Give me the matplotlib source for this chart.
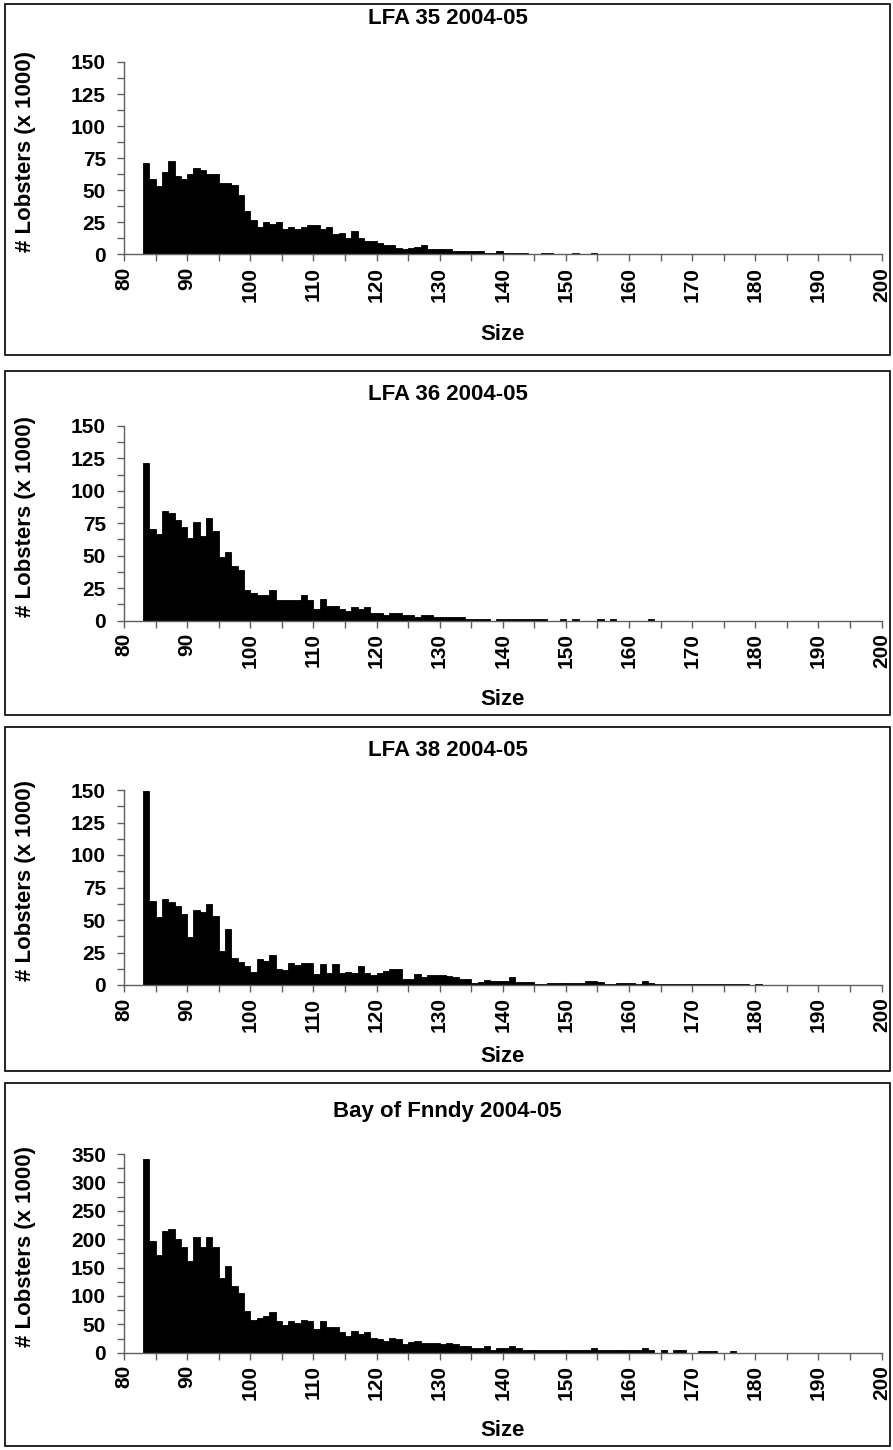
import matplotlib
matplotlib.use('Agg')
import matplotlib.pyplot as plt
from matplotlib.patches import Rectangle
from matplotlib.ticker import MultipleLocator

plt.rcParams['font.family'] = ['Liberation Sans', 'DejaVu Sans']
plt.rcParams['font.weight'] = 'bold'

# ---------------- data (thousands of lobsters by carapace size, mm) ----------------
start_size = 83

titles = ["LFA 35 2004-05", "LFA 36 2004-05", "LFA 38 2004-05", "Bay of Fnndy 2004-05"]
y_label = "# Lobsters (x 1000)"
x_label = "Size"

lfa35 = [71, 59, 53, 64, 73, 61, 59, 63, 67, 66, 63, 63, 56, 56, 54, 46, 34, 27, 21, 25,
         24, 25, 20, 21, 20, 21, 23, 23, 20, 21, 16, 17, 13, 18, 13, 10, 10, 9, 7, 7,
         5, 4.5, 4.7, 5.5, 7, 4.2, 4.2, 4.2, 4.2, 2.9, 2.9, 2.9, 2.9, 2.9, 1.3, 1.3,
         2.9, 1.3, 1.3, 1.3, 1.3, 0, 0, 1.3, 1.3, 0, 0, 0, 1.3, 0, 0, 1.3]

lfa36 = [121, 70.5, 66.4, 84.4, 83, 77.4, 71.8, 63.8, 75.9, 65.1, 78.7, 69.2, 48.7, 52.6,
         41.8, 38.7, 23.8, 21.3, 19.7, 19.7, 23.8, 15.6, 15.6, 15.6, 15.6, 19.7, 15.6, 8.7,
         17, 11.5, 11.5, 8.7, 7.4, 10.3, 8.7, 10.3, 5.9, 5.9, 4.6, 5.9, 5.9, 4.6, 4.6, 3.1,
         4.6, 4.6, 3.1, 3.1, 3.1, 3.1, 3.1, 1.5, 1.5, 1.5, 1.5, 0, 1.5, 1.5, 1.5, 1.5, 1.5,
         1.5, 1.5, 1.5, 0, 0, 1.5, 0, 1.5, 0, 0, 0, 1.5, 0, 1.5, 0, 0, 0, 0, 0, 1.5]

lfa38 = [149, 65, 52, 66, 64, 61, 55, 37, 58, 56, 62, 53, 26, 43, 21, 18, 15, 10, 20, 18.5,
         23, 12.5, 11.5, 17, 15.5, 17, 17, 8.5, 16, 9.5, 16, 9, 10, 9.5, 14.5, 9, 7.5, 9.5,
         11, 12, 12.3, 4.5, 4.5, 8.5, 6, 7.5, 7.5, 7.5, 7, 6, 4.5, 4.5, 1.8, 2.5, 4, 3, 3,
         3, 6, 2, 2, 2, 0.5, 0.5, 1.5, 1.5, 1.8, 1.8, 1.8, 1.8, 3, 3, 2, 0.8, 0.8, 1.5, 1.5,
         1.5, 1, 3, 1.8, 0.5, 0.5, 0.5, 0.5, 0.5, 0.5, 0.5, 0.5, 0.5, 0.5, 0.5, 0.5, 0.5,
         0.5, 0.5, 0, 0.5]

bof = [341, 196, 172, 215, 218, 200, 187, 162, 203, 187, 203, 187, 131, 152, 118, 105, 74,
       58, 61, 64, 71, 55, 49, 55, 52, 58, 55, 42, 55, 45, 45, 36, 30, 39, 33, 36, 26, 24,
       21, 26, 24, 15, 19, 20, 16.5, 16.5, 16.5, 14.7, 17.6, 14.7, 11, 11, 7.6, 7.6, 11,
       4.7, 7.6, 7.6, 11, 7.6, 4.7, 4.7, 4.7, 4.7, 4.7, 4.7, 4.7, 4.7, 4.7, 4.7, 4.7, 7.6,
       4.7, 4.7, 4.7, 4.7, 4.7, 4.7, 4.7, 7.6, 4.7, 0, 4.7, 0, 4.7, 4.7, 0, 0, 3, 3, 3, 0,
       0, 3]

series = [lfa35, lfa36, lfa38, bof]
y_max = [150, 150, 150, 350]
y_major = [25, 25, 25, 50]
x_min, x_max = 80, 200

# ---------------- layout (pixels) ----------------
W, H = 893, 1450
fig = plt.figure(figsize=(W / 100, H / 100), dpi=100)
fig.patch.set_facecolor('white')

frames = [(4, 355), (371, 715), (727, 1071), (1083, 1446)]
axes_tb = [(62, 254.3), (425.8, 620.7), (790, 985), (1154, 1352.7)]
title_y = [18, 394, 750, 1111]
size_y = [335, 699, 1057, 1431]
ax_left, ax_right = 124, 881.5
frame_left, frame_right = 5, 890

axis_col = '#606060'

for i in range(4):
    ft, fb = frames[i]
    fig.add_artist(Rectangle((frame_left / W, 1 - fb / H), (frame_right - frame_left) / W,
                             (fb - ft) / H, transform=fig.transFigure, fill=False,
                             edgecolor='black', linewidth=1.2))
    top, bot = axes_tb[i]
    ax = fig.add_axes([ax_left / W, 1 - bot / H, (ax_right - ax_left) / W, (bot - top) / H])
    vals = series[i]
    sizes = list(range(start_size, start_size + len(vals)))
    ax.bar(sizes, vals, width=1, align='edge', color='black', edgecolor='black',
           linewidth=0.6)
    ax.set_xlim(x_min, x_max)
    ax.set_ylim(0, y_max[i])
    for s in ('top', 'right'):
        ax.spines[s].set_visible(False)
    for s in ('left', 'bottom'):
        ax.spines[s].set_color(axis_col)
        ax.spines[s].set_linewidth(1)
    ax.xaxis.set_major_locator(MultipleLocator(10))
    ax.xaxis.set_minor_locator(MultipleLocator(5))
    ax.yaxis.set_major_locator(MultipleLocator(y_major[i]))
    ax.yaxis.set_minor_locator(MultipleLocator(y_major[i] / 2))
    ax.tick_params(which='both', direction='out', length=5, width=1, color=axis_col)
    ax.tick_params(axis='y', which='major', labelsize=15, pad=8)
    ax.tick_params(axis='x', which='major', labelsize=15, pad=4, labelrotation=90)
    for lab in ax.get_xticklabels() + ax.get_yticklabels():
        lab.set_fontweight('bold')

    fig.text((frame_left + frame_right) / 2 / W, 1 - title_y[i] / H, titles[i],
             ha='center', va='center', fontsize=16, fontweight='bold')
    fig.text(26 / W, 1 - ((top + bot) / 2 - 7) / H, y_label, rotation=90,
             ha='center', va='center', fontsize=16, fontweight='bold')
    fig.text((ax_left + ax_right) / 2 / W, 1 - size_y[i] / H, x_label,
             ha='center', va='center', fontsize=16, fontweight='bold')

fig.savefig('out.png', dpi=100, facecolor='white')
